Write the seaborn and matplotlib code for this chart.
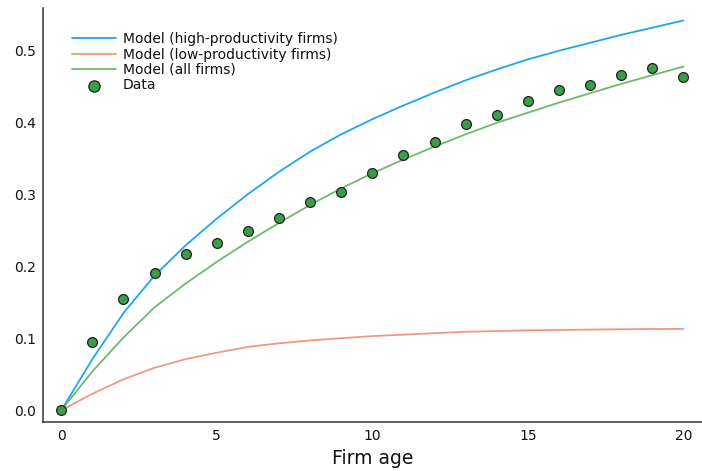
import numpy as np
import pandas as pd
import matplotlib
matplotlib.use("Agg")
import matplotlib.pyplot as plt
import seaborn as sns

# ---- data ----
age = list(range(0, 21))
model_high = [0.0, 0.071, 0.135, 0.187, 0.229, 0.266, 0.300, 0.331, 0.359, 0.383, 0.404,
              0.423, 0.441, 0.458, 0.473, 0.487, 0.499, 0.510, 0.521, 0.531, 0.541]
model_low = [0.0, 0.023, 0.043, 0.059, 0.071, 0.080, 0.088, 0.093, 0.097, 0.100, 0.103,
             0.105, 0.107, 0.109, 0.110, 0.111, 0.1115, 0.112, 0.1125, 0.1128, 0.113]
model_all = [0.0, 0.054, 0.101, 0.143, 0.176, 0.206, 0.234, 0.260, 0.285, 0.308, 0.329,
             0.348, 0.366, 0.383, 0.399, 0.413, 0.427, 0.440, 0.453, 0.465, 0.477]
data_vals = [0.0, 0.0944, 0.155, 0.191, 0.2175, 0.2328, 0.249, 0.2675, 0.2889, 0.3032, 0.329,
             0.354, 0.3717, 0.3967, 0.4097, 0.429, 0.4449, 0.4518, 0.4647, 0.475, 0.463]

series_names = ["Model (high-productivity firms)", "Model (low-productivity firms)",
                "Model (all firms)"]
x_ticks = [0, 5, 10, 15, 20]
y_ticks = [0.0, 0.1, 0.2, 0.3, 0.4, 0.5]
x_label = "Firm age"

lines_df = pd.DataFrame({
    "age": age * 3,
    "value": model_high + model_low + model_all,
    "series": [series_names[0]] * 21 + [series_names[1]] * 21 + [series_names[2]] * 21,
})
data_df = pd.DataFrame({"age": age, "value": data_vals})

sns.set_theme(style="white")
plt.rcParams["font.family"] = ["DejaVu Sans"]

fig = plt.figure(figsize=(7.02, 4.71), dpi=100)
ax = fig.add_axes([0.0607, 0.104, 0.9393, 0.879])

palette = {series_names[0]: "#1fa5f5", series_names[1]: "#ee9a7f", series_names[2]: "#6dba6f"}
sns.lineplot(data=lines_df, x="age", y="value", hue="series", palette=palette,
             linewidth=1.3, ax=ax, legend=True)
sns.scatterplot(data=data_df, x="age", y="value", color="#3a9e47", edgecolor="#222222",
                linewidth=0.9, s=50, zorder=5, ax=ax, label="Data")

ax.set_xlim(-0.6, 20.6)
ax.set_ylim(-0.01626, 0.5583)
ax.set_xticks(x_ticks)
ax.set_yticks(y_ticks)
ax.set_yticklabels([f"{v:.1f}" for v in y_ticks])
ax.set_xlabel(x_label, fontsize=13.5, color="#111111")
ax.set_ylabel("")
ax.tick_params(direction="in", length=4.5, width=1.0, colors="#333333",
               labelsize=10, labelcolor="#111111", pad=5)
for side in ["top", "right"]:
    ax.spines[side].set_visible(False)
for side in ["left", "bottom"]:
    ax.spines[side].set_color("#333333")
    ax.spines[side].set_linewidth(1.1)

leg = ax.legend(loc="upper left", bbox_to_anchor=(0.036, 0.955), frameon=False,
                fontsize=10, handlelength=3.2, handletextpad=0.45, labelspacing=0.1,
                markerscale=1.15, borderaxespad=0.0)
for t in leg.get_texts():
    t.set_color("#111111")

fig.savefig("out.png", dpi=100)
